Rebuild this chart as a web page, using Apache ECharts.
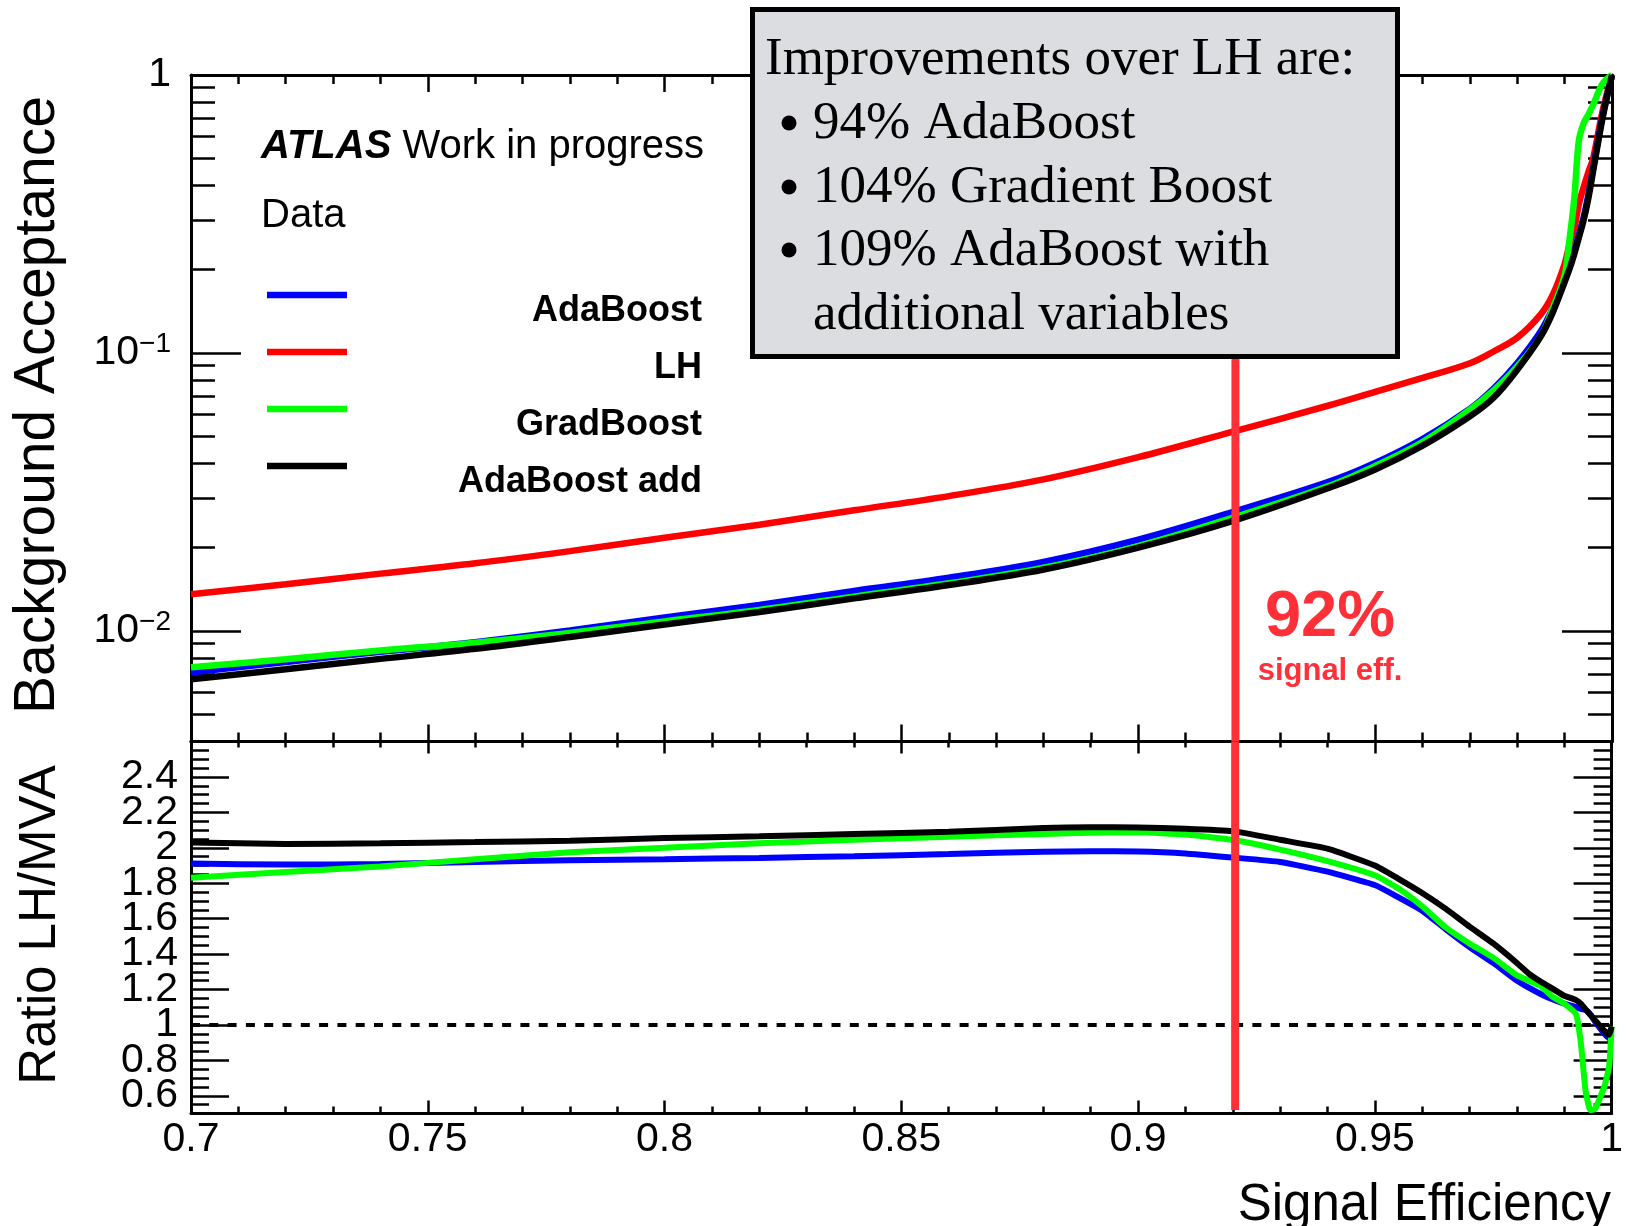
<!DOCTYPE html>
<html>
<head>
<meta charset="utf-8">
<script src="https://cdn.jsdelivr.net/npm/echarts@6/dist/echarts.min.js"></script>
<style>
html,body{margin:0;padding:0;background:#fff;}
#chart{width:1626px;height:1226px;}
</style>
</head>
<body>
<div id="chart"></div>
<script>
// ---------------- data ----------------
// Upper panel: background acceptance vs signal efficiency
const effTop = [0.70,0.72,0.74,0.76,0.78,0.80,0.82,0.84,0.86,0.88,0.90,0.92,0.94,0.95,0.96,0.97,0.975,0.98,0.985,0.9875,0.99,0.991,0.992,0.993,0.994,0.995,0.996,0.998,1.0];
const bkgLH = [0.01355,0.01472,0.01607,0.01750,0.01936,0.02163,0.02410,0.02716,0.03055,0.03508,0.04217,0.05212,0.06457,0.07244,0.08128,0.09183,0.1012,0.1135,0.138,0.162,0.209,0.245,0.279,0.343,0.394,0.447,0.50,0.741,1.0];
const bkgAda = [0.00709,0.00773,0.00841,0.00911,0.01003,0.01118,0.0124,0.01393,0.01555,0.01772,0.0213,0.0268,0.0343,0.0402,0.049,0.0629,0.0744,0.092,0.12,0.145,0.186,0.206,0.232,0.266,0.307,0.37,0.46,0.71,1.0];
const bkgGrad = [0.0074,0.00791,0.0085,0.00907,0.00983,0.01082,0.0119,0.01328,0.01483,0.01688,0.0202,0.02555,0.0331,0.0392,0.0478,0.0625,0.0733,0.0894,0.115,0.145,0.19,0.254,0.354,0.58,0.67,0.72,0.78,0.93,1.0];
const bkgAdaAdd = [0.00670,0.00728,0.00793,0.00862,0.00951,0.01055,0.01170,0.01309,0.01462,0.01663,0.01994,0.02488,0.0326,0.0381,0.0464,0.0592,0.069,0.087,0.115,0.140,0.180,0.200,0.226,0.26,0.30,0.36,0.45,0.70,1.0];

// Lower panel: ratio LH / MVA
const effRatio = [0.70,0.72,0.74,0.76,0.78,0.80,0.82,0.84,0.86,0.88,0.89,0.90,0.91,0.92,0.93,0.94,0.95,0.955,0.96,0.965,0.97,0.975,0.98,0.9825,0.985,0.9875,0.99,0.9925,0.9935,0.9945,0.9955,0.9965,0.9985,0.9995,1.0];
const ratioAda = [1.911,1.905,1.908,1.92,1.93,1.935,1.943,1.952,1.965,1.978,1.98,1.979,1.968,1.945,1.92,1.865,1.79,1.72,1.645,1.54,1.44,1.35,1.25,1.21,1.175,1.145,1.12,1.10,1.09,1.085,1.06,1.02,0.95,0.925,0.94];
const ratioGrad = [1.831,1.863,1.895,1.935,1.975,2.0,2.025,2.045,2.062,2.078,2.085,2.087,2.075,2.045,1.99,1.925,1.845,1.77,1.67,1.55,1.46,1.38,1.28,1.25,1.22,1.16,1.12,1.06,0.90,0.63,0.52,0.525,0.655,0.77,0.99];
const ratioAdaAdd = [2.03,2.022,2.025,2.032,2.04,2.055,2.065,2.078,2.09,2.112,2.116,2.115,2.108,2.094,2.045,1.995,1.90,1.825,1.745,1.655,1.555,1.46,1.35,1.29,1.245,1.205,1.165,1.14,1.12,1.088,1.058,1.027,0.966,0.944,0.99];

const workingPoint = 0.9205;        // red "92% signal eff." marker
const unityRatio = 1;

// axis tick labels
const xTickStep = 0.05;
const topDecades = [0.01, 0.1, 1];
const ratioTickLabels = [0.6,0.8,1.0,1.2,1.4,1.6,1.8,2.0,2.2,2.4];

const seriesNames = ['AdaBoost','LH','GradBoost','AdaBoost add'];
const seriesColors = ['#0000ff','#ff0000','#00ff00','#000000'];

// ---------------- helpers ----------------
const SANS = "'Liberation Sans', Arial, Helvetica, sans-serif";
const SERIF = "'Liberation Serif', 'Times New Roman', serif";
const MARK_RED = '#ff3038';
const topMin = 0.004, topMax = 1;
const logMin = Math.log10(topMin), logMax = Math.log10(topMax);
const ratioMin = 0.5, ratioMax = 2.6;

const topMajorLog = topDecades.map(v => Math.log10(v));
const topMinorLog = [];
[0.001, 0.01, 0.1].forEach(d => { for (let k = 2; k <= 9; k++) { const v = k * d; if (v >= topMin - 1e-12 && v <= topMax) topMinorLog.push(Math.log10(v)); } });
const ratioMinor = [];
for (let k = 10; k <= 52; k++) ratioMinor.push(Math.round(k * 5) / 100);
// labels are split over two label axes so that none gets dropped as "overlapping"
const ratioLabelsA = ratioTickLabels.filter((v, i) => i % 2 === 0);
const ratioLabelsB = ratioTickLabels.filter((v, i) => i % 2 === 1);

function xAx(grid, pos, major, minor, labels) {
  return {
    type: 'value', gridIndex: grid, position: pos, min: 0.7, max: 1.0, interval: xTickStep,
    axisLine: { show: true, onZero: false, lineStyle: { color: '#000', width: 3 } },
    axisTick: { show: true, inside: true, length: major, lineStyle: { color: '#000', width: 2.5 } },
    minorTick: { show: true, splitNumber: 5, length: minor, lineStyle: { color: '#000', width: 2.5 } },
    axisLabel: labels ? { show: true, margin: 6, fontSize: 41, fontFamily: SANS, color: '#000', showMinLabel: true, showMaxLabel: true } : { show: false },
    splitLine: { show: false }, minorSplitLine: { show: false }
  };
}
function yAx(grid, pos, min, max, ticks, len, showLine, label) {
  return {
    type: 'value', gridIndex: grid, position: pos, min: min, max: max,
    axisLine: { show: showLine, onZero: false, lineStyle: { color: '#000', width: 3 } },
    axisTick: ticks ? { show: true, inside: true, length: len, customValues: ticks, lineStyle: { color: '#000', width: 2.5 } } : { show: false },
    axisLabel: label || { show: false },
    splitLine: { show: false }
  };
}

const topLabel = {
  show: true, customValues: topMajorLog, margin: 20, fontSize: 41, fontFamily: SANS, color: '#000',
  showMinLabel: true, showMaxLabel: true, hideOverlap: false,
  formatter: function (v) { const e = Math.round(v); return e === 0 ? '1' : '10{sup|\u2212' + (-e) + '}'; },
  rich: { sup: { fontSize: 28, fontFamily: SANS, color: '#000', padding: [0, 0, 18, 0] } }
};
function ratioLabel(vals) {
  return { show: true, customValues: vals, margin: 13, fontSize: 41, fontFamily: SANS, color: '#000',
    showMinLabel: true, showMaxLabel: true, hideOverlap: false };
}

function topSeries(name, vals, color) {
  return {
    name: name, type: 'line', xAxisIndex: 0, yAxisIndex: 0, showSymbol: false, symbol: 'none',
    smooth: 0.35,
    lineStyle: { color: color, width: 6.5 }, itemStyle: { color: color },
    data: effTop.map((x, i) => [x, Math.log10(vals[i])])
  };
}
function ratioSeries(name, vals, color) {
  return {
    name: name, type: 'line', xAxisIndex: 2, yAxisIndex: 4, showSymbol: false, symbol: 'none',
    smooth: 0.15,
    lineStyle: { color: color, width: 6 }, itemStyle: { color: color },
    data: effRatio.map((x, i) => [x, vals[i]])
  };
}

// ---------------- graphic (annotations, legend, titles) ----------------
const graphics = [];
function txt(x, y, text, size, opts) {
  opts = opts || {};
  graphics.push({
    type: 'text', x: x, y: y, rotation: opts.rotation || 0, z: 110,
    style: {
      text: text, fontSize: size, fontFamily: opts.family || SANS, fontWeight: opts.weight || 'normal',
      fontStyle: opts.style || 'normal', fill: opts.fill || '#000',
      align: opts.align || 'left', verticalAlign: 'middle', rich: opts.rich
    }
  });
}
// axis titles
txt(38, 405, 'Background Acceptance', 57, { align: 'center', rotation: Math.PI / 2 });
txt(41, 925, 'Ratio LH/MVA', 51, { align: 'center', rotation: Math.PI / 2 });
txt(1611, 1206, 'Signal Efficiency', 51, { align: 'right' });
// ATLAS label
txt(261, 147, '{a|ATLAS} Work in progress', 40, {
  rich: { a: { fontSize: 40, fontFamily: SANS, fontWeight: 'bold', fontStyle: 'italic', fill: '#000' } }
});
txt(261, 216, 'Data', 40);
// legend
const legendY = [295, 352, 409, 466];
seriesNames.forEach((n, i) => {
  graphics.push({ type: 'line', z: 110, shape: { x1: 267, y1: legendY[i], x2: 347, y2: legendY[i] },
    style: { stroke: seriesColors[i], lineWidth: 6.5 } });
  txt(702, legendY[i] + 16, n, 36, { align: 'right', weight: 'bold' });
});
// info box
graphics.push({ type: 'rect', z: 100, shape: { x: 752.5, y: 9.5, width: 645, height: 347 },
  style: { fill: '#dcdde0', stroke: '#000', lineWidth: 5 } });
txt(765, 60, 'Improvements over LH are:', 53, { family: SERIF });
const boxLines = ['94% AdaBoost', '104% Gradient Boost', '109% AdaBoost with', 'additional variables'];
const boxY = [124, 188, 251, 315];
boxLines.forEach((t, i) => {
  if (i < 3) graphics.push({ type: 'circle', z: 110, shape: { cx: 789, cy: boxY[i] - 1, r: 7.5 }, style: { fill: '#000' } });
  txt(813, boxY[i], t, 53, { family: SERIF });
});
// working point label
txt(1330, 618, '92%', 65, { align: 'center', weight: 'bold', fill: MARK_RED });
txt(1330, 671, 'signal eff.', 31, { align: 'center', weight: 'bold', fill: MARK_RED });

// ---------------- option ----------------
const option = {
  animation: false,
  backgroundColor: '#fff',
  grid: [
    { left: 191, top: 75, width: 1421, height: 666.5 },
    { left: 191, top: 741.5, width: 1421, height: 372 }
  ],
  xAxis: [
    xAx(0, 'bottom', 17, 9, false),
    xAx(0, 'top', 17, 9, false),
    xAx(1, 'bottom', 13, 7, true),
    xAx(1, 'top', 12, 6, false)
  ],
  yAxis: [
    yAx(0, 'left', logMin, logMax, topMajorLog, 50, true, topLabel),
    yAx(0, 'left', logMin, logMax, topMinorLog, 24, false),
    yAx(0, 'right', logMin, logMax, topMajorLog, 50, true),
    yAx(0, 'right', logMin, logMax, topMinorLog, 24, false),
    yAx(1, 'left', ratioMin, ratioMax, ratioTickLabels, 38, true, ratioLabel(ratioLabelsA)),
    yAx(1, 'left', ratioMin, ratioMax, ratioMinor, 18, false),
    yAx(1, 'right', ratioMin, ratioMax, ratioTickLabels, 38, true),
    yAx(1, 'right', ratioMin, ratioMax, ratioMinor, 18, false),
    yAx(1, 'left', ratioMin, ratioMax, null, 0, false, ratioLabel(ratioLabelsB))
  ],
  series: [
    topSeries('LH', bkgLH, '#ff0000'),
    topSeries('AdaBoost', bkgAda, '#0000ff'),
    topSeries('GradBoost', bkgGrad, '#00ff00'),
    topSeries('AdaBoost add', bkgAdaAdd, '#000000'),
    {
      type: 'line', xAxisIndex: 2, yAxisIndex: 4, showSymbol: false, symbol: 'none',
      lineStyle: { color: '#000', width: 4, type: [9, 9.3] },
      data: [[0.7, unityRatio], [1.0, unityRatio]]
    },
    ratioSeries('AdaBoost', ratioAda, '#0000ff'),
    ratioSeries('GradBoost', ratioGrad, '#00ff00'),
    ratioSeries('AdaBoost add', ratioAdaAdd, '#000000'),
    {
      type: 'line', xAxisIndex: 0, yAxisIndex: 0, showSymbol: false, symbol: 'none', z: 5,
      lineStyle: { color: MARK_RED, width: 8 },
      data: [[workingPoint, logMin], [workingPoint, logMax]]
    },
    {
      type: 'line', xAxisIndex: 2, yAxisIndex: 4, showSymbol: false, symbol: 'none', z: 5,
      lineStyle: { color: MARK_RED, width: 8 },
      data: [[workingPoint, 0.52], [workingPoint, ratioMax]]
    }
  ],
  graphic: graphics
};

const chart = echarts.init(document.getElementById('chart'), null, { renderer: 'canvas' });
chart.setOption(option);
</script>
</body>
</html>
